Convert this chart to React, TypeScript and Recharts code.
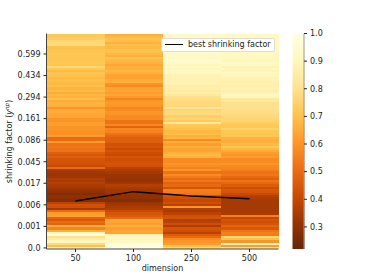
import React from 'react';
import {
  Bar,
  BarChart,
  Cell,
  ComposedChart,
  Legend,
  Line,
  XAxis,
  YAxis,
} from 'recharts';

const FONT = 'DejaVu Sans';
const INK = '#222';
const SPINE = '#444';

const dimensions = ['50', '100', '250', '500'];
const bestFactor = [22.3, 26.6, 24.6, 23.3];
const factorLabels = ['0.0', '0.001', '0.006', '0.017', '0.045', '0.086', '0.161', '0.294', '0.434', '0.599'];
const colorTicks = [0.3, 0.4, 0.5, 0.6, 0.7, 0.8, 0.9, 1.0];
const colorMin = 0.22;
const colorMax = 1;

// heatmap rows, top of the picture first
const dim50 = [
  0.72, 0.72, 0.74, 0.76, 0.77, 0.77, 0.7, 0.71, 0.71, 0.72, 0.71, 0.71, 0.71, 0.72, 0.71, 0.77, 0.72, 0.68, 0.71, 0.7, 0.68, 0.7, 0.69, 0.68, 0.7,
  0.67, 0.69, 0.65, 0.68, 0.67, 0.69, 0.65, 0.67, 0.66, 0.6, 0.65, 0.65, 0.64, 0.64, 0.6, 0.6, 0.62, 0.62, 0.6, 0.6, 0.59, 0.59, 0.62, 0.5, 0.5,
  0.62, 0.52, 0.53, 0.52, 0.52, 0.47, 0.45, 0.47, 0.44, 0.44, 0.43, 0.41, 0.5, 0.35, 0.33, 0.32, 0.33, 0.36, 0.35, 0.37, 0.35, 0.33, 0.31, 0.3, 0.28,
  0.3, 0.29, 0.28, 0.38, 0.43, 0.42, 0.34, 0.5, 0.62, 0.63, 0.48, 0.45, 0.5, 0.48, 0.66, 0.56, 0.66, 0.92, 0.96, 0.8, 0.85, 0.9, 0.78, 0.7, 0.92,
];
const dim100 = [
  0.66, 0.68, 0.7, 0.7, 0.66, 0.69, 0.68, 0.7, 0.7, 0.68, 0.66, 0.71, 0.68, 0.67, 0.64, 0.66, 0.66, 0.68, 0.66, 0.63, 0.63, 0.65, 0.66, 0.6, 0.58,
  0.63, 0.64, 0.62, 0.64, 0.61, 0.56, 0.6, 0.61, 0.6, 0.57, 0.58, 0.6, 0.6, 0.58, 0.58, 0.52, 0.52, 0.57, 0.48, 0.57, 0.56, 0.52, 0.49, 0.47, 0.47,
  0.47, 0.43, 0.44, 0.41, 0.44, 0.42, 0.41, 0.44, 0.42, 0.43, 0.44, 0.43, 0.38, 0.36, 0.34, 0.32, 0.32, 0.31, 0.31, 0.33, 0.37, 0.35, 0.33, 0.33, 0.31,
  0.3, 0.3, 0.28, 0.32, 0.33, 0.35, 0.36, 0.41, 0.44, 0.46, 0.5, 0.65, 0.64, 0.62, 0.66, 0.62, 0.64, 0.63, 0.88, 0.92, 0.9, 0.92, 0.98, 0.99, 0.98,
];
const dim250 = [
  0.93, 0.93, 0.93, 0.93, 0.93, 0.93, 0.93, 0.95, 0.95, 0.93, 0.93, 0.92, 0.95, 0.93, 0.9, 0.93, 0.9, 0.92, 0.92, 0.88, 0.88, 0.88, 0.88, 0.88, 0.86,
  0.86, 0.84, 0.86, 0.83, 0.8, 0.79, 0.78, 0.77, 0.77, 0.82, 0.76, 0.77, 0.78, 0.74, 0.76, 0.73, 0.83, 0.72, 0.71, 0.7, 0.68, 0.69, 0.66, 0.68, 0.58,
  0.66, 0.62, 0.66, 0.63, 0.64, 0.66, 0.68, 0.67, 0.58, 0.58, 0.6, 0.58, 0.56, 0.6, 0.52, 0.58, 0.54, 0.5, 0.53, 0.48, 0.5, 0.44, 0.55, 0.54, 0.53,
  0.44, 0.42, 0.4, 0.42, 0.38, 0.6, 0.36, 0.35, 0.38, 0.43, 0.44, 0.36, 0.38, 0.42, 0.36, 0.44, 0.42, 0.38, 0.46, 0.5, 0.58, 0.6, 0.62, 0.7, 0.76,
];
const dim500 = [
  0.92, 0.92, 0.92, 0.92, 0.92, 0.92, 0.92, 0.93, 0.92, 0.92, 0.92, 0.91, 0.9, 0.93, 0.92, 0.88, 0.91, 0.88, 0.92, 0.9, 0.88, 0.88, 0.87, 0.87, 0.87,
  0.88, 0.86, 0.88, 0.91, 0.9, 0.83, 0.84, 0.8, 0.8, 0.8, 0.79, 0.79, 0.78, 0.77, 0.76, 0.76, 0.74, 0.72, 0.72, 0.75, 0.72, 0.71, 0.72, 0.67, 0.66,
  0.66, 0.68, 0.72, 0.68, 0.65, 0.62, 0.6, 0.62, 0.58, 0.58, 0.6, 0.57, 0.57, 0.55, 0.52, 0.53, 0.5, 0.47, 0.52, 0.49, 0.46, 0.42, 0.45, 0.44, 0.41,
  0.37, 0.35, 0.34, 0.34, 0.34, 0.34, 0.34, 0.34, 0.35, 0.55, 0.4, 0.44, 0.42, 0.44, 0.48, 0.45, 0.52, 0.55, 0.54, 0.76, 0.7, 0.6, 0.9, 0.62, 0.85,
];
const columns = [dim50, dim100, dim250, dim500];

// YlOrBr reversed
const colorStops = ['#662506', '#993404', '#cc4c02', '#ec7014', '#fe9929', '#fec44f', '#fee391', '#fff7bc', '#ffffe5'];

const hexToRgb = (hex: string) => [1, 3, 5].map((i) => parseInt(hex.slice(i, i + 2), 16));

const colorFor = (value: number) => {
  const t = Math.min(1, Math.max(0, (value - colorMin) / (colorMax - colorMin))) * (colorStops.length - 1);
  const i = Math.min(colorStops.length - 2, Math.floor(t));
  const a = hexToRgb(colorStops[i]);
  const b = hexToRgb(colorStops[i + 1]);
  const mix = a.map((c, k) => Math.round(c + (b[k] - c) * (t - i)));
  return `rgb(${mix[0]},${mix[1]},${mix[2]})`;
};

const rowCount = dim50.length;
const rowIndexes = Array.from({ length: rowCount }, (_, i) => i);
const factorTicks = factorLabels.map((_, i) => i * 10 + 0.5);

const chartData = dimensions.map((dimension, c) => {
  const row: Record<string, number | string> = { dimension, best: bestFactor[c] };
  rowIndexes.forEach((i) => {
    row[`r${i}`] = 1;
  });
  return row;
});

const tickStyle = { fontFamily: FONT, fontSize: 8, fill: INK };

const FactorLabel = () => (
  <text
    x={12}
    y={141.5}
    transform="rotate(-90 12 141.5)"
    textAnchor="middle"
    fontFamily={FONT}
    fontSize={8}
    fill={INK}
  >
    shrinking factor (
    <tspan fontStyle="italic">y</tspan>
    <tspan fontStyle="italic" fontSize={5.6} dy={-3}>np</tspan>
    <tspan dy={3}>)</tspan>
  </text>
);

const LegendBox = () => (
  <div
    style={{
      boxSizing: 'border-box',
      width: 114,
      height: 14,
      background: 'rgba(255,255,255,0.9)',
      border: '1px solid #ddd',
      borderRadius: 2,
      position: 'relative',
      fontFamily: FONT,
      fontSize: 8,
      color: INK,
      lineHeight: '12px',
      whiteSpace: 'nowrap',
    }}
  >
    <span style={{ position: 'absolute', left: 3, top: 5, width: 18, height: 1.4, background: '#000' }} />
    <span style={{ position: 'absolute', left: 26, top: 0 }}>best shrinking factor</span>
  </div>
);

const ColorBar = () => (
  <BarChart
    width={94}
    height={280}
    data={[{ name: 'scale', range: [colorMin, colorMax] }]}
    margin={{ top: 33.5, right: 0, bottom: 31, left: 12.5 }}
    barCategoryGap={0}
    style={{ position: 'absolute', left: 280, top: 0 }}
  >
    <defs>
      <linearGradient id="scaleFill" x1="0" y1="1" x2="0" y2="0">
        {colorStops.map((c, i) => (
          <stop key={c} offset={i / (colorStops.length - 1)} stopColor={c} />
        ))}
      </linearGradient>
    </defs>
    <XAxis dataKey="name" height={0} tick={false} tickLine={false} axisLine={{ stroke: '#333' }} />
    <XAxis xAxisId="top" dataKey="name" orientation="top" height={0} tick={false} tickLine={false} axisLine={{ stroke: '#333' }} />
    <YAxis
      orientation="right"
      width={70}
      domain={[colorMin, colorMax]}
      ticks={colorTicks}
      interval={0}
      tickFormatter={(v: number) => v.toFixed(1)}
      tick={tickStyle}
      tickSize={3}
      tickMargin={3}
      tickLine={{ stroke: INK }}
      axisLine={{ stroke: '#999' }}
    />
    <YAxis yAxisId="left" width={0} domain={[colorMin, colorMax]} tick={false} tickLine={false} axisLine={{ stroke: '#999' }} />
    <Bar dataKey="range" fill="url(#scaleFill)" isAnimationActive={false} />
  </BarChart>
);

export default function App() {
  return (
    <div style={{ position: 'absolute', left: 0, top: 0, width: 374, height: 280, background: '#fff' }}>
      <ComposedChart
        width={374}
        height={280}
        data={chartData}
        margin={{ top: 33.5, right: 95.5, bottom: 0, left: 0 }}
        barCategoryGap={0}
      >
        <XAxis
          dataKey="dimension"
          height={31}
          interval={0}
          tick={tickStyle}
          tickSize={3}
          tickMargin={3}
          tickLine={{ stroke: INK }}
          axisLine={{ stroke: SPINE }}
          label={{ value: 'dimension', position: 'insideBottom', offset: 9, style: tickStyle }}
        />
        <XAxis xAxisId="top" dataKey="dimension" orientation="top" height={0} tick={false} tickLine={false} axisLine={{ stroke: SPINE }} />
        <YAxis
          width={46.5}
          type="number"
          domain={[0, rowCount]}
          ticks={factorTicks}
          interval={0}
          tickFormatter={(_: number, i: number) => factorLabels[i]}
          tick={tickStyle}
          tickSize={3}
          tickMargin={3}
          tickLine={{ stroke: INK }}
          axisLine={{ stroke: SPINE }}
          label={<FactorLabel />}
        />
        <YAxis yAxisId="right" orientation="right" width={0} tick={false} tickLine={false} axisLine={{ stroke: SPINE }} />
        {rowIndexes.map((i) => (
          <Bar
            key={i}
            dataKey={`r${i}`}
            stackId="cells"
            legendType="none"
            shapeRendering="crispEdges"
            isAnimationActive={false}
          >
            {columns.map((col, c) => (
              <Cell key={c} fill={colorFor(col[rowCount - 1 - i])} />
            ))}
          </Bar>
        ))}
        <Line
          dataKey="best"
          name="best shrinking factor"
          stroke="#000"
          strokeWidth={1.4}
          dot={false}
          activeDot={false}
          isAnimationActive={false}
        />
        <Legend
          layout="horizontal"
          verticalAlign="middle"
          align="center"
          content={<LegendBox />}
          wrapperStyle={{ left: 161, top: 38, width: 114, height: 14 }}
        />
      </ComposedChart>
      <ColorBar />
    </div>
  );
}
